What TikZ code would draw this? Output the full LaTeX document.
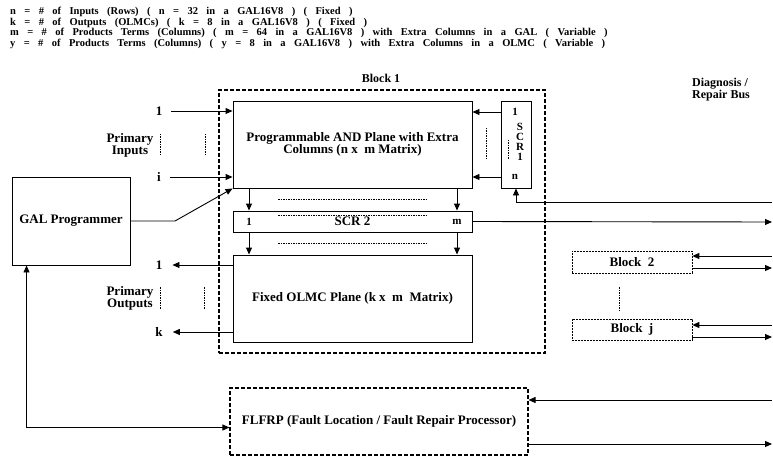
\documentclass[tikz,border=0pt]{standalone}
\usepackage{fontspec}
\setmainfont{Liberation Serif}
\newfontfamily\hdrfont[WordSpace=3.2]{Liberation Serif}
\usetikzlibrary{arrows.meta}

\begin{document}
\begin{tikzpicture}[
  x=1pt, y=-1pt,
  >={Triangle[length=7pt, width=6pt]},
  font=\fontsize{13}{12}\selectfont\bfseries,
  box/.style={draw, line width=0.9pt, inner sep=0pt},
  blk/.style={draw, line width=1.1pt, dash pattern=on 4pt off 2pt, inner sep=0pt},
  subblk/.style={draw, line width=0.7pt, dash pattern=on 2pt off 1pt, inner sep=0pt},
  wire/.style={line width=0.9pt},
  arr/.style={wire, ->},
  dots/.style={line width=0.6pt, dash pattern=on 1.5pt off 1pt},
  lbl/.style={inner sep=1pt},
]
  \useasboundingbox (0,0) rectangle (773,465);

  % definitions at the top
  \node[anchor=north west, align=left, inner sep=0pt,
        font=\hdrfont\fontsize{10.5}{10.5}\selectfont\bfseries] (defs) at (10,7)
    {n = \# of Inputs (Rows) ( n = 32 in a GAL16V8 ) ( Fixed )\\
     k = \# of Outputs (OLMCs) ( k = 8 in a GAL16V8 ) ( Fixed )\\
     m = \# of Products Terms (Columns) ( m = 64 in a GAL16V8 ) with Extra Columns in a GAL ( Variable )\\
     y = \# of Products Terms (Columns) ( y = 8 in a GAL16V8 ) with Extra Columns in a OLMC ( Variable )};

  % block 1 and its planes
  \node[blk, minimum width=326pt, minimum height=263pt] (blk1) at (382,221.5) {};
  \node[lbl, font=\fontsize{12}{12}\selectfont\bfseries] (blk1lbl) at (381,78) {Block 1};
  \node[box, minimum width=239pt, minimum height=87pt, align=center] (and) at (352.5,144.5)
    {Programmable AND Plane with Extra\\Columns (n x~ m Matrix)};
  \node[box, minimum width=30pt, minimum height=87pt] (scr1) at (516,144.5) {};
  \node[lbl, font=\fontsize{11}{10}\selectfont\bfseries] (s1top) at (515,112) {1};
  \node[lbl, font=\fontsize{11}{10}\selectfont\bfseries] (s1bot) at (515,177) {n};
  \node[lbl, align=center, font=\fontsize{11}{10}\selectfont\bfseries] (s1name) at (520,142) {S\\C\\R\\1};
  \node[box, minimum width=239pt, minimum height=21pt] (scr2) at (352.5,221.5) {SCR 2};
  \node[lbl, font=\fontsize{11}{10}\selectfont\bfseries] (s2a) at (249,222) {1};
  \node[lbl, font=\fontsize{11}{10}\selectfont\bfseries] (s2m) at (457,222) {m};
  \node[box, minimum width=239pt, minimum height=87pt] (olmc) at (352.5,298.5)
    {Fixed OLMC Plane (k x~ m~ Matrix)};

  % primary inputs / outputs
  \node[lbl] (in1) at (159,111) {1};
  \node[lbl] (ini) at (159,177) {i};
  \node[lbl, align=center] (pin) at (130,145) {Primary\\Inputs};
  \node[lbl] (out1) at (159,265) {1};
  \node[lbl] (outk) at (159,332) {k};
  \node[lbl, align=center] (pout) at (130,298) {Primary\\Outputs};

  % programmer, processor, other blocks
  \node[box, minimum width=118pt, minimum height=88pt] (gal) at (71,221) {GAL Programmer};
  \node[blk, minimum width=298pt, minimum height=67pt] (flfrp) at (379,421.5)
    {FLFRP (Fault Location / Fault Repair Processor)};
  \node[subblk, minimum width=120pt, minimum height=22pt] (blk2) at (632,262) {Block~ 2};
  \node[subblk, minimum width=120pt, minimum height=21pt] (blkj) at (632,329.5) {Block~ j};
  \node[lbl, align=left, anchor=west, font=\fontsize{12}{10.5}\selectfont\bfseries] (bus) at (691,90)
    {Diagnosis /\\Repair Bus};

  % bus ends on the right
  \foreach \name/\y in {busS/202, busR/222, bus2i/256, bus2o/268, busji/325, busjo/337, busfi/400, busfo/444}
    \coordinate (\name) at (772,\y);

  % inputs and outputs
  \draw[arr, shorten <=8pt] (in1) -- (in1 -| and.west);
  \draw[arr, shorten <=8pt] (ini) -- (ini -| and.west);
  \draw[arr, shorten >=9pt] (out1 -| olmc.west) -- (out1);
  \draw[arr, shorten >=9pt] (outk -| olmc.west) -- (outk);

  % inside block 1
  \draw[arr] (s1top -| scr1.west) -- (s1top -| and.east);
  \draw[arr] (s1bot -| scr1.west) -- (s1bot -| and.east);
  \foreach \c in {s2a, s2m} {
    \draw[arr] (and.south -| \c) -- (scr2.north -| \c);
    \draw[arr] (scr2.south -| \c) -- (olmc.north -| \c);
  }

  % programmer links
  \coordinate (galbend) at (175,221);
  \draw[arr] (gal.east) -- (galbend) -- (and.south west);
  \draw[wire, <->] ([xshift=15pt]gal.south west) |- ([yshift=-6pt]flfrp.west);

  % diagnosis / repair bus
  \draw[arr] (busS) -| (scr1.south);
  \draw[arr] (scr2.east) -- (busR);
  \draw[arr] (bus2i) -- (bus2i -| blk2.east);
  \draw[arr] (bus2o -| blk2.east) -- (bus2o);
  \draw[arr] (busji) -- (busji -| blkj.east);
  \draw[arr] (busjo -| blkj.east) -- (busjo);
  \draw[arr] (busfi) -- (busfi -| flfrp.east);
  \draw[arr] (busfo -| flfrp.east) -- (busfo);

  % ellipsis marks
  \draw[dots] (160,134) -- (160,155);
  \draw[dots] (205,134) -- (205,155);
  \draw[dots] (486,128) -- (486,160);
  \draw[dots] (508,140) -- (508,160);
  \draw[dots] (160,287) -- (160,309);
  \draw[dots] (204,287) -- (204,309);
  \draw[dots] (619,287) -- (619,310);
  \foreach \y in {199, 215, 243}
    \draw[dots] (278,\y) -- (427,\y);
\end{tikzpicture}
\end{document}
